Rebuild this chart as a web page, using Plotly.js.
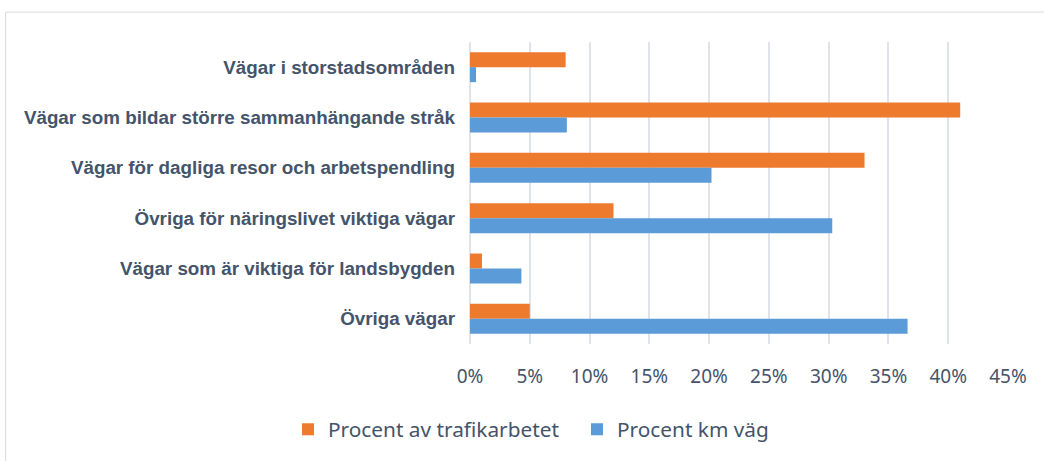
<!DOCTYPE html>
<html>
<head>
<meta charset="utf-8">
<script src="https://cdn.plot.ly/plotly-3.0.1.min.js"></script>
<style>
html,body{margin:0;padding:0;background:#fff;}
#chart{width:1044px;height:461px;}
</style>
</head>
<body>
<div id="chart"></div>
<script>
const categories = [
  "Vägar i storstadsområden",
  "Vägar som bildar större sammanhängande stråk",
  "Vägar för dagliga resor och arbetspendling",
  "Övriga för näringslivet viktiga vägar",
  "Vägar som är viktiga för landsbygden",
  "Övriga vägar"
];
const seriesNames = ["Procent av trafikarbetet", "Procent km väg"];
const trafikarbete = [8, 41, 33, 12, 1, 5];
const kmVag = [0.5, 8.1, 20.2, 30.3, 4.3, 36.6];
const tickValues = [0, 5, 10, 15, 20, 25, 30, 35, 40, 45];
const tickLabels = ["0%", "5%", "10%", "15%", "20%", "25%", "30%", "35%", "40%", "45%"];

const textColor = "#44546A";
const tickFont = {family: "Noto Sans, sans-serif", size: 19, color: textColor};
const legendFont = {family: "Noto Sans, sans-serif", size: 20.8, color: textColor};

const traces = [
  {type: "bar", orientation: "h", name: seriesNames[0], y: categories, x: trafikarbete,
   marker: {color: "#EE7A2E"}, hoverinfo: "x+y"},
  {type: "bar", orientation: "h", name: seriesNames[1], y: categories, x: kmVag,
   marker: {color: "#5A9BD8"}, hoverinfo: "x+y"}
];

const layout = {
  width: 1044, height: 461,
  margin: {l: 470, r: 36, t: 42, b: 116},
  paper_bgcolor: "#ffffff", plot_bgcolor: "#ffffff",
  barmode: "group", bargap: 0.405, bargroupgap: 0,
  xaxis: {
    range: [0, 45], tickvals: tickValues, ticktext: tickLabels,
    showgrid: true, gridcolor: "#E0E4EA", gridwidth: 2,
    zeroline: true, zerolinecolor: "#E0E4EA", zerolinewidth: 2,
    showline: false, ticks: "", tickfont: tickFont, ticklabelstandoff: 19,
    fixedrange: true
  },
  yaxis: {
    autorange: "reversed", showgrid: false, zeroline: false, showline: false,
    ticks: "", ticklabelstandoff: 14,
    tickfont: {family: "Liberation Sans, Arial, sans-serif", size: 18.8, color: textColor, weight: "bold"},
    fixedrange: true
  },
  showlegend: true,
  legend: {
    orientation: "h", x: (288 - 470) / 538, xanchor: "left", y: -0.28, yanchor: "middle",
    font: legendFont, itemwidth: 30, entrywidth: 244, entrywidthmode: "pixels",
    traceorder: "normal", bgcolor: "rgba(0,0,0,0)"
  },
  shapes: [{
    type: "rect", xref: "paper", yref: "paper",
    x0: -0.863, x1: 1.3, y0: -0.6, y1: 1.099,
    line: {color: "#D9D9D9", width: 1}, fillcolor: "rgba(0,0,0,0)", layer: "below"
  }]
};

Plotly.newPlot("chart", traces, layout, {displayModeBar: false});
</script>
</body>
</html>
